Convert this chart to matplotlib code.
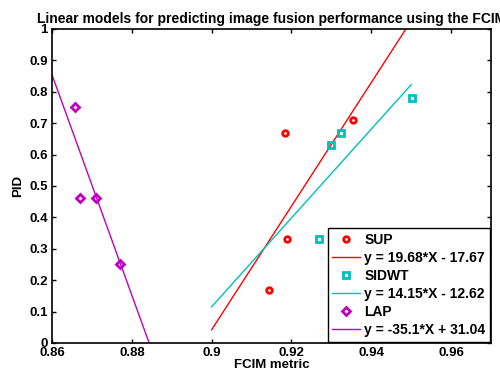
import numpy as np
import matplotlib
matplotlib.use("Agg")
import matplotlib.pyplot as plt

plt.rcParams['font.family'] = ['Liberation Sans', 'DejaVu Sans']
plt.rcParams['font.weight'] = 'bold'

# data
sup_x = [0.9185, 0.919, 0.9143, 0.9355]
sup_y = [0.67, 0.33, 0.17, 0.71]
sidwt_x = [0.93, 0.9325, 0.9503, 0.9268]
sidwt_y = [0.63, 0.67, 0.78, 0.33]
lap_x = [0.8658, 0.867, 0.871, 0.877]
lap_y = [0.75, 0.46, 0.46, 0.25]

# fitted models (slope, intercept) and x ranges of the drawn fits
sup_fit = (19.68, -17.67)
sidwt_fit = (14.15, -12.62)
lap_fit = (-35.1, 31.04)
sup_range = (0.9, 0.95)
sidwt_range = (0.9, 0.95)
lap_range = (0.86, 0.9)

red = (1, 0, 0)
cyan = (0, 0.75, 0.75)
magenta = (0.75, 0, 0.75)

fig = plt.figure(figsize=(5, 3.76), dpi=100)
ax = fig.add_axes([0.104, 0.088, 0.878, 0.835])

def fit_line(fit, rng):
    xs = np.linspace(rng[0], rng[1], 50)
    return xs, fit[0] * xs + fit[1]

ax.plot(sup_x, sup_y, 'o', ms=4, mfc='none', mec=red, mew=2, label='SUP')
xs, ys = fit_line(sup_fit, sup_range)
ax.plot(xs, ys, '-', color=red, lw=1, label='y = 19.68*X - 17.67')
ax.plot(sidwt_x, sidwt_y, 's', ms=4.5, mfc='none', mec=cyan, mew=2, label='SIDWT')
xs, ys = fit_line(sidwt_fit, sidwt_range)
ax.plot(xs, ys, '-', color=cyan, lw=1, label='y = 14.15*X - 12.62')
ax.plot(lap_x, lap_y, 'D', ms=4, mfc='none', mec=magenta, mew=2, label='LAP')
xs, ys = fit_line(lap_fit, lap_range)
ax.plot(xs, ys, '-', color=magenta, lw=1, label='y = -35.1*X + 31.04')

ax.set_xlim(0.86, 0.97)
ax.set_ylim(0, 1)
ax.set_xticks([0.86, 0.88, 0.9, 0.92, 0.94, 0.96])
ax.set_xticklabels(['0.86', '0.88', '0.9', '0.92', '0.94', '0.96'])
ax.set_yticks(np.arange(0, 1.01, 0.1))
ax.set_yticklabels(['0', '0.1', '0.2', '0.3', '0.4', '0.5', '0.6', '0.7', '0.8', '0.9', '1'])
ax.tick_params(direction='in', top=True, right=True, labelsize=9.5, length=3, width=1, pad=3)
for s in ax.spines.values():
    s.set_linewidth(1.2)

ax.set_xlabel('FCIM metric', fontsize=9.5, fontweight='bold', labelpad=0)
ax.set_ylabel('PID', fontsize=9.5, fontweight='bold', labelpad=4)
ax.set_title('Linear models for predicting image fusion performance using the FCIM',
             fontsize=10, fontweight='bold', pad=4)

leg = ax.legend(loc='lower right', fontsize=10, fancybox=False, framealpha=1,
                edgecolor='black', borderaxespad=0.1, handlelength=2.0,
                handletextpad=0.3, labelspacing=0.3, borderpad=0.3)
leg.get_frame().set_linewidth(1)

fig.savefig('out.png', dpi=100)
